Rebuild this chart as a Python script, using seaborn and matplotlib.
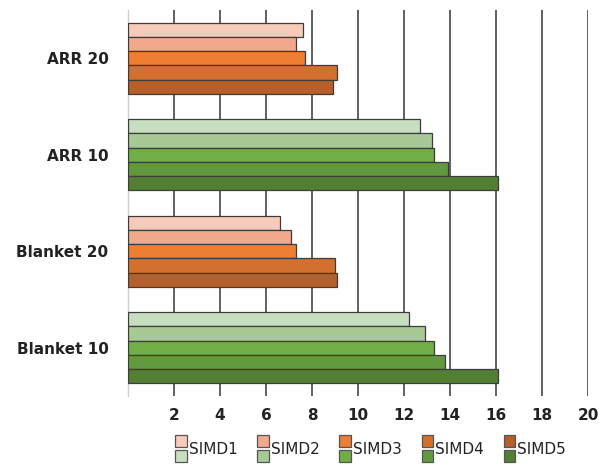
import matplotlib
matplotlib.use("Agg")
import matplotlib.pyplot as plt
from matplotlib.patches import Rectangle, Patch
from matplotlib.legend_handler import HandlerBase
import pandas as pd
import seaborn as sns

# Chart data
categories = ["ARR 20", "ARR 10", "Blanket 20", "Blanket 10"]
simd_levels = ["SIMD1", "SIMD2", "SIMD3", "SIMD4", "SIMD5"]
arr20 = [7.6, 7.3, 7.7, 9.1, 8.9]
arr10 = [12.7, 13.2, 13.3, 13.9, 16.1]
blanket20 = [6.6, 7.1, 7.3, 9.0, 9.1]
blanket10 = [12.2, 12.9, 13.3, 13.8, 16.1]
x_ticks = [2, 4, 6, 8, 10, 12, 14, 16, 18, 20]

orange_palette = ["#f8cab9", "#f1a98e", "#ee7e32", "#d4702d", "#b65f28"]
green_palette = ["#c7dec0", "#a7c996", "#71ae47", "#62993e", "#527f33"]

def long_table(rows):
    recs = []
    for cat, vals in rows:
        for lvl, v in zip(simd_levels, vals):
            recs.append({"category": cat, "SIMD": lvl, "value": v})
    return pd.DataFrame(recs)

df20 = long_table([("ARR 20", arr20), ("Blanket 20", blanket20)])
df10 = long_table([("ARR 10", arr10), ("Blanket 10", blanket10)])

sns.set_style("white")
plt.rcParams["font.family"] = ["DejaVu Sans"]

fig = plt.figure(figsize=(5.99, 4.66), dpi=100)
ax = fig.add_axes([128 / 599, 1 - 396 / 466, 460 / 599, 386 / 466])

common = dict(y="category", x="value", hue="SIMD", order=categories,
              hue_order=simd_levels, orient="h", width=0.735, saturation=1,
              edgecolor="#3c3c3c", linewidth=0.9, legend=False, ax=ax,
              errorbar=None, zorder=3)
sns.barplot(data=df20, palette=orange_palette, **common)
sns.barplot(data=df10, palette=green_palette, **common)

ax.set_xlim(0, 20)
ax.set_ylim(3.5, -0.5)
ax.set_xticks(x_ticks)
ax.set_xlabel("")
ax.set_ylabel("")
ax.grid(axis="x", color="#606060", linewidth=1.4, zorder=0)
ax.grid(axis="y", visible=False)
ax.set_axisbelow(True)
for side in ["top", "right", "bottom"]:
    ax.spines[side].set_visible(False)
ax.spines["left"].set_color("#d0d0d0")
ax.spines["left"].set_linewidth(1.0)
ax.tick_params(axis="both", length=0, labelsize=11, labelcolor="#222222")
ax.tick_params(axis="y", pad=14)
ax.tick_params(axis="x", pad=9)
for lbl in ax.get_xticklabels() + ax.get_yticklabels():
    lbl.set_fontweight("bold")


class StackedSquares(HandlerBase):
    """Draws an orange square above a green square for each legend entry."""

    def create_artists(self, legend, orig_handle, xdescent, ydescent,
                       width, height, fontsize, trans):
        top, bottom = orig_handle
        s = 0.78 * fontsize
        gap = 0.2 * fontsize
        cy = height / 2 - ydescent
        x0 = -xdescent
        r1 = Rectangle((x0, cy + gap / 2), s, s, facecolor=top.get_facecolor(),
                       edgecolor="#555555", linewidth=0.9, transform=trans)
        r2 = Rectangle((x0, cy - gap / 2 - s), s, s, facecolor=bottom.get_facecolor(),
                       edgecolor="#555555", linewidth=0.9, transform=trans)
        return [r1, r2]


handles = [(Patch(facecolor=o), Patch(facecolor=g))
           for o, g in zip(orange_palette, green_palette)]
fig.legend(handles, simd_levels, handler_map={tuple: StackedSquares()},
           loc="center", bbox_to_anchor=(0.6185, 1 - 449.5 / 466),
           ncol=5, frameon=False, fontsize=11, handlelength=0.78,
           handletextpad=0.1, columnspacing=1.3, borderpad=0,
           labelcolor="#222222")

fig.savefig("out.png", dpi=100)
